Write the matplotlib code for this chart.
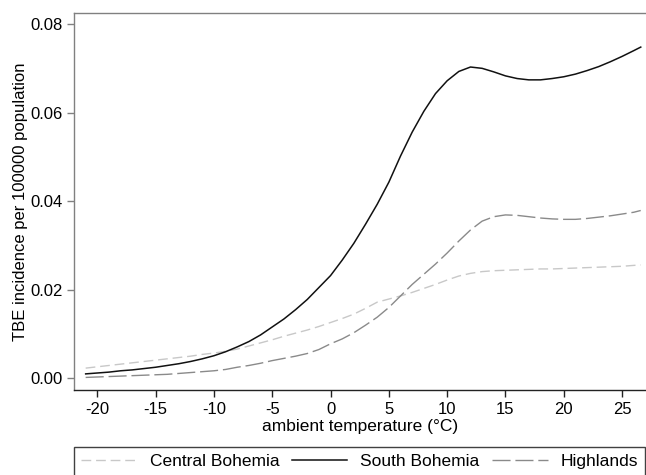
import matplotlib
matplotlib.use("Agg")
import matplotlib.pyplot as plt
import numpy as np

plt.rcParams['font.family'] = ['Liberation Sans', 'DejaVu Sans']

temp = [-21, -20, -19, -18, -17, -16, -15, -14, -13, -12, -11, -10, -9, -8, -7, -6, -5, -4, -3, -2, -1,
        0, 1, 2, 3, 4, 5, 6, 7, 8, 9, 10, 11, 12, 13, 14, 15, 16, 17, 18, 19, 20, 21, 22, 23, 24, 25, 26, 26.6]

central = [0.0023, 0.0026, 0.0029, 0.0032, 0.0035, 0.0038, 0.0041, 0.0044, 0.0047, 0.0050, 0.0054, 0.0057,
           0.0061, 0.0066, 0.0073, 0.0080, 0.0087, 0.0095, 0.0102, 0.0109, 0.0117,
           0.0126, 0.0135, 0.0145, 0.0158, 0.0172, 0.0179, 0.0186, 0.0194, 0.0203, 0.0212, 0.0222, 0.0231,
           0.0237, 0.0241, 0.0243, 0.0244, 0.0245, 0.0246, 0.0247, 0.0247, 0.0248, 0.0249, 0.0250, 0.0251,
           0.0252, 0.0253, 0.0255, 0.0256]

south = [0.0010, 0.0012, 0.0014, 0.0017, 0.0019, 0.0022, 0.0025, 0.0029, 0.0033, 0.0038, 0.0044, 0.0051,
         0.0060, 0.0071, 0.0083, 0.0098, 0.0116, 0.0134, 0.0155, 0.0178, 0.0205,
         0.0232, 0.0267, 0.0305, 0.0348, 0.0393, 0.0443, 0.0502, 0.0556, 0.0603, 0.0643, 0.0672, 0.0693,
         0.0703, 0.0700, 0.0692, 0.0683, 0.0677, 0.0674, 0.0674, 0.0677, 0.0681, 0.0687, 0.0695, 0.0704,
         0.0715, 0.0727, 0.0740, 0.0748]

highlands = [0.0002, 0.0003, 0.0004, 0.0005, 0.0006, 0.0007, 0.0008, 0.0009, 0.0011, 0.0013, 0.0015, 0.0017,
             0.0020, 0.0025, 0.0029, 0.0034, 0.0040, 0.0045, 0.0050, 0.0056, 0.0065,
             0.0078, 0.0089, 0.0103, 0.0120, 0.0138, 0.0160, 0.0186, 0.0212, 0.0235, 0.0258, 0.0283, 0.0310,
             0.0335, 0.0355, 0.0365, 0.0369, 0.0368, 0.0365, 0.0362, 0.0360, 0.0359, 0.0359, 0.0361, 0.0364,
             0.0367, 0.0371, 0.0375, 0.0379]

xticks = [-20, -15, -10, -5, 0, 5, 10, 15, 20, 25]
yticks = [0.00, 0.02, 0.04, 0.06, 0.08]
ytick_labels = ["0.00", "0.02", "0.04", "0.06", "0.08"]

W, H = 646, 475
fig = plt.figure(figsize=(W / 100, H / 100), dpi=100)
left, right, top, bottom = 74, 646, 13, 390
ax = fig.add_axes([left / W, 1 - bottom / H, (right - left) / W, (bottom - top) / H])

l1, = ax.plot(temp, central, color='#c8c8c8', lw=1.0, dashes=(7, 3.5), label='Central Bohemia')
l2, = ax.plot(temp, south, color='#111111', lw=1.1, label='South Bohemia')
l3, = ax.plot(temp, highlands, color='#8a8a8a', lw=1.0, dashes=(13, 3.5), label='Highlands')

ax.set_xlim(-22.0, 27.05)
ax.set_ylim(-0.00264, 0.0825)
ax.set_xticks(xticks)
ax.set_xticklabels([str(t) for t in xticks])
ax.set_yticks(yticks)
ax.set_yticklabels(ytick_labels)

ax.spines['right'].set_visible(False)
ax.spines['top'].set_color('#808080')
ax.spines['left'].set_color('#808080')
ax.spines['bottom'].set_color('#222222')
for s in ax.spines.values():
    s.set_linewidth(1.0)

ax.tick_params(axis='x', direction='out', length=5, width=1, color='#222222', labelsize=12, pad=4)
ax.tick_params(axis='y', direction='out', length=5, width=1, color='#808080', labelsize=12, pad=3)

ax.set_xlabel('ambient temperature (°C)', fontsize=12.5, labelpad=1)
ax.set_ylabel('TBE incidence per 100000 population', fontsize=12, labelpad=2)

leg = fig.legend(handles=[l1, l2, l3], loc='upper left', ncol=3,
                 bbox_to_anchor=(left / W, 1 - 447 / H, (W - 1 - left) / W, 0),
                 mode='expand', frameon=True, fancybox=False, fontsize=12.5,
                 handlelength=3.2, handletextpad=0.75, columnspacing=0.6,
                 borderpad=0.4, borderaxespad=0)
leg.get_frame().set_edgecolor('#111111')
leg.get_frame().set_linewidth(1.0)

fig.savefig('out.png', dpi=100)
